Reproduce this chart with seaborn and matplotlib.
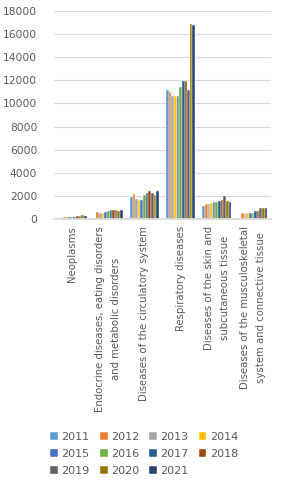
import numpy as np
import pandas as pd
import matplotlib
matplotlib.use("Agg")
import matplotlib.pyplot as plt
import seaborn as sns

# Data
categories = [
    "Neoplasms",
    "Endocrine diseases, eating disorders\nand metabolic disorders",
    "Diseases of the circulatory system",
    "Respiratory diseases",
    "Diseases of the skin and\nsubcutaneous tissue",
    "Diseases of the musculoskeletal\nsystem and connective tissue",
]
years = ["2011", "2012", "2013", "2014", "2015", "2016",
         "2017", "2018", "2019", "2020", "2021"]

neoplasms = [60, 120, 130, 140, 160, 180, 200, 230, 300, 330, 300]
endocrine = [0, 580, 560, 550, 580, 700, 780, 800, 780, 720, 820]
circulatory = [1910, 2170, 1740, 1620, 1680, 2120, 2290, 2380, 2230, 2120, 2460]
respiratory = [11160, 10990, 10670, 10610, 10670, 11450, 11910, 11910, 11160, 16900, 16780]
skin = [1160, 1300, 1300, 1420, 1450, 1510, 1590, 1650, 2000, 1570, 1480]
musculo = [0, 530, 470, 500, 540, 560, 650, 700, 930, 930, 930]

colors = ["#5B9BD5", "#ED7D31", "#A5A5A5", "#FFC000", "#4472C4", "#70AD47",
          "#255E91", "#9E480E", "#636363", "#997300", "#264478"]

series = [neoplasms, endocrine, circulatory, respiratory, skin, musculo]
rows = []
for cat, vals in zip(categories, series):
    for yr, v in zip(years, vals):
        rows.append({"cat": cat, "year": yr, "value": v})
df = pd.DataFrame(rows)

sns.set_theme(style="white")
plt.rcParams["font.family"] = ["DejaVu Sans"]

fig = plt.figure(figsize=(2.81, 4.8), dpi=100)
ax = fig.add_axes([54 / 281, 1 - 219 / 480, 217 / 281, 208 / 480])

sns.barplot(data=df, x="cat", y="value", hue="year", palette=colors,
            hue_order=years, order=categories, width=0.8, saturation=1,
            linewidth=0.3, edgecolor="white", ax=ax, legend=True)

ax.set_ylim(0, 18000)
ax.set_yticks(np.arange(0, 18001, 2000))
ax.yaxis.grid(True, color="#D9D9D9", linewidth=0.8)
ax.set_axisbelow(True)
for s in ["top", "right", "left"]:
    ax.spines[s].set_visible(False)
ax.spines["bottom"].set_color("#D9D9D9")
ax.set_xlabel("")
ax.set_ylabel("")
ax.tick_params(axis="y", labelsize=7.7, colors="#595959", length=0, pad=12)
ax.tick_params(axis="x", length=0, pad=5)
ax.set_xticks(range(len(categories)))
ax.set_xticklabels(categories, rotation=90, fontsize=7.3, color="#595959",
                   ha="center", va="top", multialignment="center",
                   linespacing=1.7)

# legend laid out row by row like the original (matplotlib fills columns first)
handles, labels = ax.get_legend_handles_labels()
ax.get_legend().remove()
ncol = 4
order = [i for c in range(ncol) for i in range(c, len(labels), ncol)]
fig.legend([handles[i] for i in order], [labels[i] for i in order],
           loc="lower center", bbox_to_anchor=(0.513, -0.012),
           ncol=ncol, frameon=False, fontsize=8, handlelength=0.7,
           handleheight=0.7, handletextpad=0.3, columnspacing=0.9,
           labelspacing=0.62, labelcolor="#595959")

fig.savefig("out.png", dpi=100)
